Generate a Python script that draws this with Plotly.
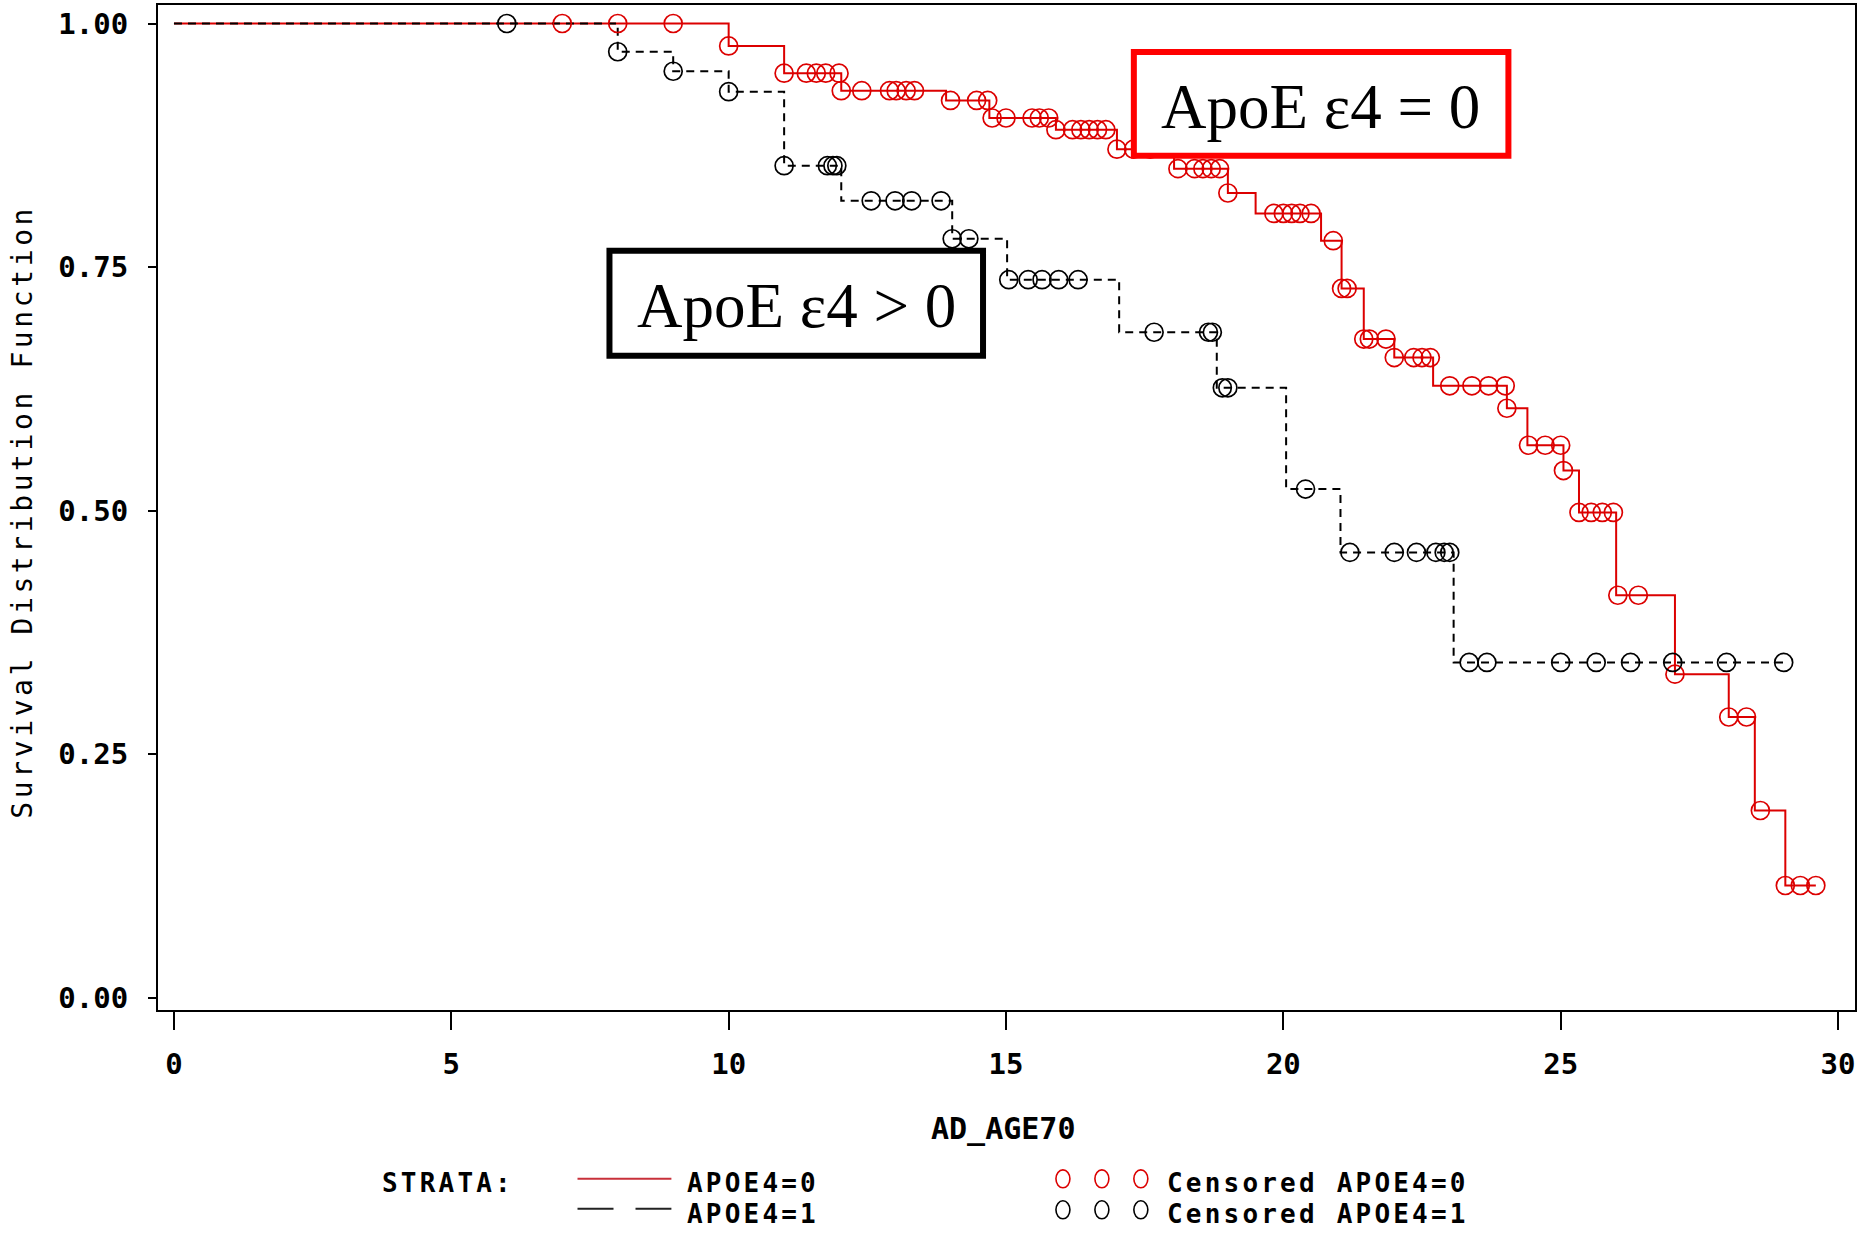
import numpy as np
import plotly.graph_objects as go

# ---------------- data ----------------
# Stratum APOE4=0 (red, solid)
red_event_t = [10.0, 11.0, 12.03, 13.92, 14.7, 15.9, 17.0, 18.03, 19.0, 19.5, 20.68, 21.05,
               21.45, 22.0, 22.7, 24.03, 24.4, 25.05, 25.33, 26.0, 27.06, 28.03, 28.5, 29.05]
red_event_s = [0.977, 0.949, 0.931, 0.921, 0.903, 0.891, 0.871, 0.851, 0.826, 0.805, 0.777, 0.728,
               0.676, 0.657, 0.628, 0.605, 0.567, 0.541, 0.498, 0.413, 0.332, 0.288, 0.192, 0.115]
red_cens_t = [7.0, 8.0, 9.0, 10.0, 11.0, 11.4, 11.58, 11.75, 11.99, 12.03, 12.4, 12.9, 13.02,
              13.2, 13.35, 14.0, 14.47, 14.67, 14.75, 15.0, 15.47, 15.6, 15.77, 15.9, 16.2,
              16.35, 16.5, 16.65, 16.8, 17.0, 17.3, 17.6, 18.1, 18.4, 18.55, 18.7, 18.85, 19.0,
              19.83, 20.0, 20.15, 20.3, 20.5, 20.9, 21.05, 21.15, 21.45, 21.55, 21.85, 22.0,
              22.35, 22.5, 22.65, 23.0, 23.4, 23.7, 24.0, 24.03, 24.42, 24.72, 25.0, 25.05,
              25.33, 25.55, 25.75, 25.95, 26.03, 26.4, 27.06, 28.03, 28.35, 28.6, 29.05,
              29.32, 29.6]

# Stratum APOE4=1 (black, dashed)
blk_event_t = [8.0, 9.0, 10.0, 11.0, 12.03, 14.03, 15.02, 17.04, 18.8, 20.05, 21.03, 23.07]
blk_event_s = [0.971, 0.951, 0.930, 0.854, 0.818, 0.779, 0.737, 0.683, 0.626, 0.522, 0.457, 0.344]
blk_cens_t = [6.0, 8.0, 9.0, 10.0, 11.0, 11.78, 11.88, 11.95, 12.57, 13.0, 13.3, 13.83, 14.03,
              14.33, 15.05, 15.4, 15.65, 15.95, 16.3, 17.67, 18.65, 18.72, 18.9, 19.0, 20.4,
              21.2, 22.0, 22.4, 22.75, 22.9, 23.0, 23.35, 23.67, 25.0, 25.64, 26.26, 27.02,
              27.99, 29.02]

x_ticks = [0, 5, 10, 15, 20, 25, 30]
y_ticks = [0.0, 0.25, 0.5, 0.75, 1.0]

RED = "#dc0000"
BLK = "#000000"
MONO = "DejaVu Sans Mono"
SERIF = "Liberation Serif"


def step_xy(ev_t, ev_s, cens_t):
    end = max(max(ev_t), max(cens_t))
    xs = [0.0] + list(ev_t) + [end]
    ys = [1.0] + list(ev_s) + [ev_s[-1]]
    return xs, ys


def level_at(ev_t, ev_s, times):
    ev_t = np.asarray(ev_t)
    lv = np.concatenate([[1.0], np.asarray(ev_s)])
    idx = np.searchsorted(ev_t, np.asarray(times) + 1e-9, side="right")
    return lv[idx]


def spaced(text, px_):
    return f'<span style="letter-spacing:{px_}px">{text}</span>'


fig = go.Figure()

rx, ry = step_xy(red_event_t, red_event_s, red_cens_t)
bx, by = step_xy(blk_event_t, blk_event_s, blk_cens_t)

fig.add_trace(go.Scatter(x=rx, y=ry, mode="lines", line=dict(color=RED, width=2, shape="hv"),
                         showlegend=False, hoverinfo="skip"))
fig.add_trace(go.Scatter(x=bx, y=by, mode="lines",
                         line=dict(color=BLK, width=2, shape="hv", dash="8px,6px"),
                         showlegend=False, hoverinfo="skip"))
fig.add_trace(go.Scatter(x=red_cens_t, y=level_at(red_event_t, red_event_s, red_cens_t),
                         mode="markers",
                         marker=dict(symbol="circle-open", size=18, color=RED, line=dict(width=1.7)),
                         showlegend=False))
fig.add_trace(go.Scatter(x=blk_cens_t, y=level_at(blk_event_t, blk_event_s, blk_cens_t),
                         mode="markers",
                         marker=dict(symbol="circle-open", size=18, color=BLK, line=dict(width=1.7)),
                         showlegend=False))

# ---------------- layout helpers (pixel -> paper) ----------------
FW, FH = 1860, 1233
L, R, T, Bm = 158, 3, 4, 223
PW, PH = FW - L - R, FH - T - Bm
BOTTOM = FH - Bm


def px(x):
    return (x - L) / PW


def py(y):
    return (BOTTOM - y) / PH


shapes = []
annos = []

# annotation boxes
shapes.append(dict(type="rect", xref="paper", yref="paper", x0=px(1135), x1=px(1510),
                   y0=py(155), y1=py(51), line=dict(color="#ff0000", width=6), fillcolor="white",
                   layer="above"))
annos.append(dict(xref="paper", yref="paper", x=px(1322), y=py(106), text="ApoE ε4 = 0",
                  showarrow=False, xanchor="center", yanchor="middle",
                  font=dict(family=SERIF, size=63, color="black")))
shapes.append(dict(type="rect", xref="paper", yref="paper", x0=px(610), x1=px(984),
                   y0=py(355), y1=py(250), line=dict(color="black", width=6), fillcolor="white",
                   layer="above"))
annos.append(dict(xref="paper", yref="paper", x=px(797), y=py(305), text="ApoE ε4 > 0",
                  showarrow=False, xanchor="center", yanchor="middle",
                  font=dict(family=SERIF, size=63, color="black")))

# axis titles
annos.append(dict(xref="paper", yref="paper", x=px(22), y=py(511),
                  text=spaced("Survival Distribution Function", 3.6),
                  textangle=-90, showarrow=False, xanchor="center", yanchor="middle",
                  font=dict(family=MONO, size=28, color="black")))
annos.append(dict(xref="paper", yref="paper", x=px(1004), y=py(1129), text="AD_AGE70",
                  showarrow=False, xanchor="center", yanchor="middle",
                  font=dict(family=MONO, size=30, color="black", weight="bold")))

# legend
LF = dict(family=MONO, size=26, color="black", weight="bold")
LS = 3.2
y1, y2 = 1183, 1214
annos.append(dict(xref="paper", yref="paper", x=px(380), y=py(y1), text=spaced("STRATA:", LS),
                  showarrow=False, xanchor="left", yanchor="middle", font=LF))
shapes.append(dict(type="line", xref="paper", yref="paper", x0=px(578), x1=px(672),
                   y0=py(y1 - 4), y1=py(y1 - 4), line=dict(color="#c8303a", width=2)))
shapes.append(dict(type="line", xref="paper", yref="paper", x0=px(578), x1=px(672),
                   y0=py(y2 - 5), y1=py(y2 - 5), line=dict(color="#222222", width=2, dash="36px,22px")))
annos.append(dict(xref="paper", yref="paper", x=px(686), y=py(y1), text=spaced("APOE4=0", LS),
                  showarrow=False, xanchor="left", yanchor="middle", font=LF))
annos.append(dict(xref="paper", yref="paper", x=px(686), y=py(y2), text=spaced("APOE4=1", LS),
                  showarrow=False, xanchor="left", yanchor="middle", font=LF))
for cx in (1064, 1103, 1142):
    shapes.append(dict(type="circle", xref="paper", yref="paper", x0=px(cx - 7), x1=px(cx + 7),
                       y0=py(y1 + 9 - 4), y1=py(y1 - 9 - 4), line=dict(color=RED, width=1.6)))
    shapes.append(dict(type="circle", xref="paper", yref="paper", x0=px(cx - 7), x1=px(cx + 7),
                       y0=py(y2 + 9 - 4), y1=py(y2 - 9 - 4), line=dict(color=BLK, width=1.6)))
annos.append(dict(xref="paper", yref="paper", x=px(1166), y=py(y1), text=spaced("Censored APOE4=0", LS),
                  showarrow=False, xanchor="left", yanchor="middle", font=LF))
annos.append(dict(xref="paper", yref="paper", x=px(1166), y=py(y2), text=spaced("Censored APOE4=1", LS),
                  showarrow=False, xanchor="left", yanchor="middle", font=LF))

TF = dict(family=MONO, size=29, color="black", weight="bold")

fig.update_layout(
    width=FW, height=FH,
    margin=dict(l=L, r=R, t=T, b=Bm, pad=0),
    paper_bgcolor="white", plot_bgcolor="white",
    shapes=shapes, annotations=annos,
    showlegend=False,
    xaxis=dict(range=[-0.288, 30.306], tickvals=x_ticks, ticktext=[str(v) for v in x_ticks],
               showgrid=False, zeroline=False, showline=True, linecolor="black", linewidth=2,
               mirror=True, ticks="outside", ticklen=18, tickwidth=2, tickcolor="black",
               tickfont=TF, ticklabelstandoff=9),
    yaxis=dict(range=[-0.0128, 1.019], tickvals=y_ticks, ticktext=[f"{v:.2f}" for v in y_ticks],
               showgrid=False, zeroline=False, showline=True, linecolor="black", linewidth=2,
               mirror=True, ticks="outside", ticklen=8, tickwidth=2, tickcolor="black",
               tickfont=TF, ticklabelstandoff=14),
)

fig.write_html("out.html")
